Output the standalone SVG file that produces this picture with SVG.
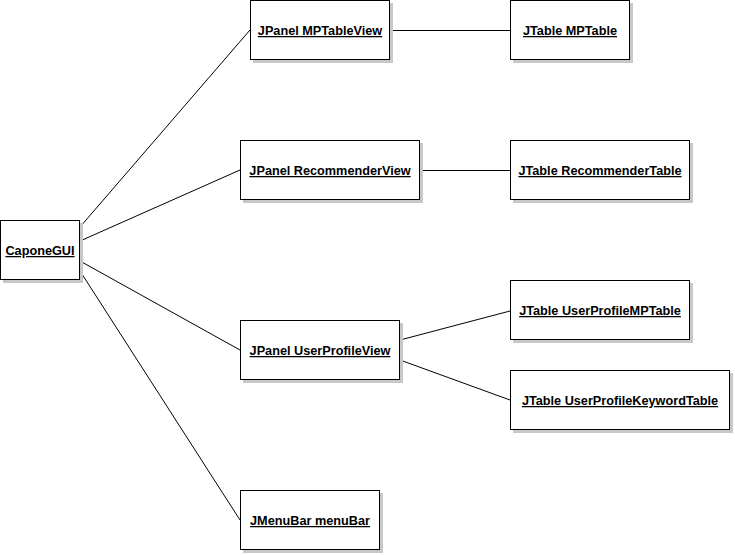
<svg xmlns="http://www.w3.org/2000/svg" width="735" height="555" viewBox="0 0 735 555">
<defs>
<style>
.box rect.s{fill:#c8c8c8;stroke:none}
.box rect.b{fill:#fff;stroke:#000;stroke-width:1}
.box text{font-family:"Liberation Sans",Arial,sans-serif;font-weight:bold;font-size:12.7px;text-anchor:middle;text-decoration:underline;fill:#000}
#connectors line{stroke:#000;stroke-width:1}
</style>
</defs>
<rect width="735" height="555" fill="#fff"/>
<g id="connectors">
<line x1="80" y1="227" x2="250" y2="30"/>
<line x1="80" y1="241" x2="240" y2="170"/>
<line x1="80" y1="261" x2="240" y2="350"/>
<line x1="80" y1="271" x2="240" y2="520"/>
<line x1="390" y1="30.5" x2="510" y2="30.5"/>
<line x1="420" y1="170.5" x2="510" y2="170.5"/>
<line x1="400" y1="340" x2="510" y2="311"/>
<line x1="400" y1="360" x2="510" y2="400"/>
</g>
<g id="CaponeGUI" class="box"><rect class="s" x="3" y="223" width="80" height="60"/><rect class="b" x="0.5" y="220.5" width="79" height="59"/><text x="40" y="255">CaponeGUI</text></g>
<g id="MPTableView" class="box"><rect class="s" x="253" y="3" width="140" height="60"/><rect class="b" x="250.5" y="0.5" width="139" height="59"/><text x="320" y="35">JPanel MPTableView</text></g>
<g id="MPTable" class="box"><rect class="s" x="513" y="3" width="120" height="60"/><rect class="b" x="510.5" y="0.5" width="119" height="59"/><text x="570" y="35">JTable MPTable</text></g>
<g id="RecommenderView" class="box"><rect class="s" x="243" y="143" width="180" height="60"/><rect class="b" x="240.5" y="140.5" width="179" height="59"/><text x="330" y="175">JPanel RecommenderView</text></g>
<g id="RecommenderTable" class="box"><rect class="s" x="513" y="143" width="180" height="60"/><rect class="b" x="510.5" y="140.5" width="179" height="59"/><text x="600" y="175">JTable RecommenderTable</text></g>
<g id="UserProfileMPTable" class="box"><rect class="s" x="513" y="283" width="180" height="60"/><rect class="b" x="510.5" y="280.5" width="179" height="59"/><text x="600" y="315">JTable UserProfileMPTable</text></g>
<g id="UserProfileView" class="box"><rect class="s" x="243" y="323" width="160" height="60"/><rect class="b" x="240.5" y="320.5" width="159" height="59"/><text x="320" y="355">JPanel UserProfileView</text></g>
<g id="UserProfileKeywordTable" class="box"><rect class="s" x="513" y="373" width="220" height="60"/><rect class="b" x="510.5" y="370.5" width="219" height="59"/><text x="620" y="405">JTable UserProfileKeywordTable</text></g>
<g id="menuBar" class="box"><rect class="s" x="243" y="493" width="140" height="60"/><rect class="b" x="240.5" y="490.5" width="139" height="59"/><text x="310" y="525">JMenuBar menuBar</text></g>
</svg>
